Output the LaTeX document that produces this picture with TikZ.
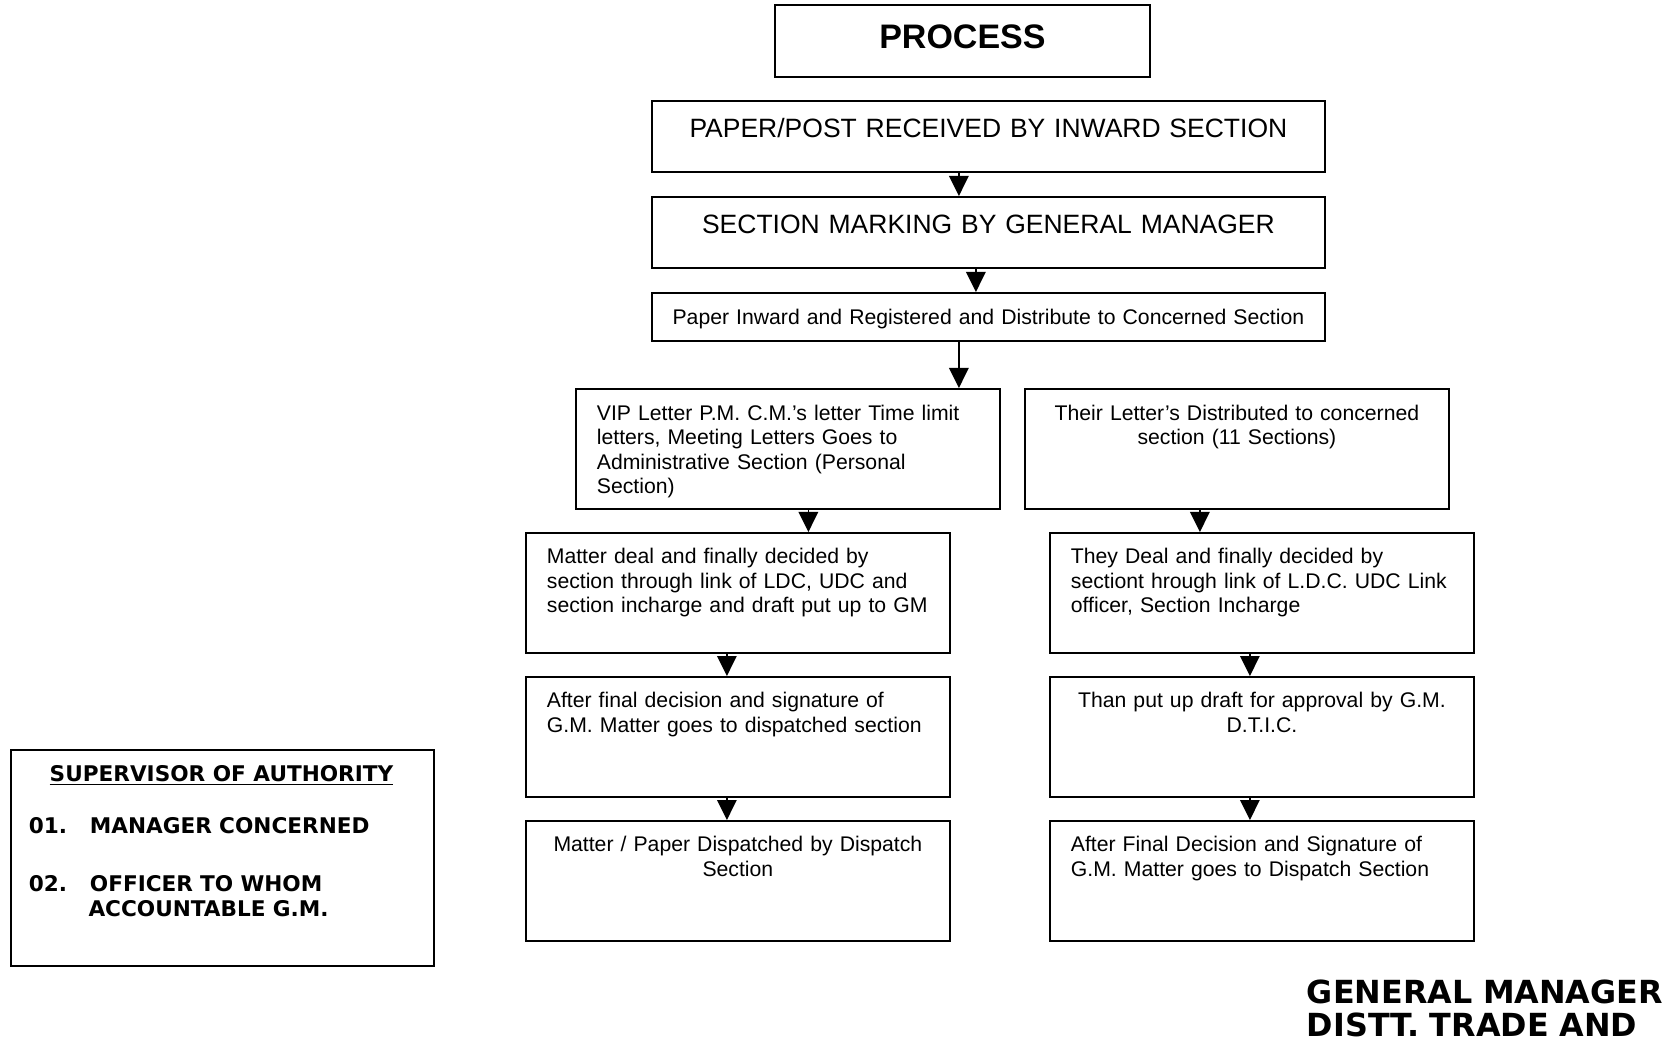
\documentclass[tikz,border=0pt]{standalone}
\usepackage{fontspec}
\setmainfont{Liberation Sans}
\newfontfamily\verdfont{DejaVu Sans}
\usetikzlibrary{arrows.meta}
\tikzstyle{bt} = [rectangle, draw, anchor=north west, inner xsep=10.5pt, inner ysep=0pt,
    text width=191pt, text height=15.5pt, text depth=44.5pt, align=left,
    font=\fontsize{10.6}{12.25}\selectfont]
\tikzstyle{hd} = [rectangle, draw, anchor=north west, inner xsep=3pt, inner ysep=0pt,
    text width=330.5pt, text height=18.3pt, text depth=17.2pt, align=center,
    font=\fontsize{13.25}{15.9}\selectfont]
\tikzstyle{sv} = [inner sep=0pt, font=\verdfont\bfseries\fontsize{10.8}{12.5}\selectfont]

\begin{document}
\begin{tikzpicture}[->,>={Triangle[length=10pt,width=9.7pt]},x=0.5pt,y=-0.5pt,
                    line width=0.9pt]
  \useasboundingbox (0,0) rectangle (1670,1047);

  \node[hd, text width=181.5pt, text height=21.85pt, text depth=14.15pt,
        font=\bfseries\fontsize{17}{20}\selectfont] (0) at (774,4) {PROCESS};
  \node[hd] (1) at (651,100) {PAPER/POST RECEIVED BY INWARD SECTION};
  \node[hd] (2) at (651,196) {SECTION MARKING BY GENERAL MANAGER};
  \node[hd, text height=15.6pt, text depth=8.4pt,
        font=\fontsize{10.6}{12.25}\selectfont] (3) at (651,292)
        {Paper Inward and Registered and Distribute to Concerned Section};

  \node[bt, text height=15.7pt, text depth=44.3pt] (4) at (575,388)
        {VIP Letter P.M. C.M.’s letter Time limit\\ letters, Meeting Letters Goes to\\
         Administrative Section (Personal\\ Section)};
  \node[bt, text height=15.7pt, text depth=44.3pt, align=center] (5) at (1024,388)
        {Their Letter’s Distributed to concerned\\ section (11 Sections)};

  \node[bt] (6) at (525,532) {Matter deal and finally decided by\\
         section through link of LDC, UDC and\\ section incharge and draft put up to GM};
  \node[bt] (7) at (525,676) {After final decision and signature of\\
         G.M. Matter goes to dispatched section};
  \node[bt, align=center] (8) at (525,820) {Matter / Paper Dispatched by Dispatch\\ Section};

  \node[bt] (9) at (1049,532) {They Deal and finally decided by\\
         sectiont hrough link of L.D.C. UDC Link\\ officer, Section Incharge};
  \node[bt, align=center] (10) at (1049,676) {Than put up draft for approval by G.M.\\ D.T.I.C.};
  \node[bt] (11) at (1049,820) {After Final Decision and Signature of\\
         G.M. Matter goes to Dispatch Section};

  % supervisor box
  \node[rectangle, draw, anchor=north west, minimum width=211.5pt, minimum height=108pt]
        (12) at (10,749) {};
  \node[sv, anchor=base] (13) at (221.5,781) {\underline{SUPERVISOR OF AUTHORITY}};
  \node[sv, anchor=base west, text width=195pt, align=left] (14) at (28,833)
        {\makebox[30.5pt][l]{01.}MANAGER CONCERNED\\[16.5pt]
         \makebox[30.5pt][l]{02.}OFFICER TO WHOM\\ \hspace*{29.8pt}ACCOUNTABLE G.M.};

  \node[sv, anchor=base west, text width=200pt, align=left,
        font=\verdfont\bfseries\fontsize{15.9}{16.5}\selectfont] (15) at (1306,1003)
        {GENERAL MANAGER\\ DISTT. TRADE AND};

  \path ([xshift=-14.75pt]1.south) edge ([xshift=-14.75pt]2.north)
        ([xshift=-6.25pt]2.south) edge ([xshift=-6.25pt]3.north)
        ([xshift=-14.75pt]3.south) edge ([xshift=85.5pt]4.north)
        ([xshift=10.25pt]4.south) edge ([xshift=35.25pt]6.north)
        ([xshift=-18.5pt]5.south) edge ([xshift=-31pt]9.north)
        ([xshift=-5.5pt]6.south) edge ([xshift=-5.5pt]7.north)
        ([xshift=-5.5pt]7.south) edge ([xshift=-5.5pt]8.north)
        ([xshift=-6pt]9.south) edge ([xshift=-6pt]10.north)
        ([xshift=-6pt]10.south) edge ([xshift=-6pt]11.north);
\end{tikzpicture}
\end{document}
